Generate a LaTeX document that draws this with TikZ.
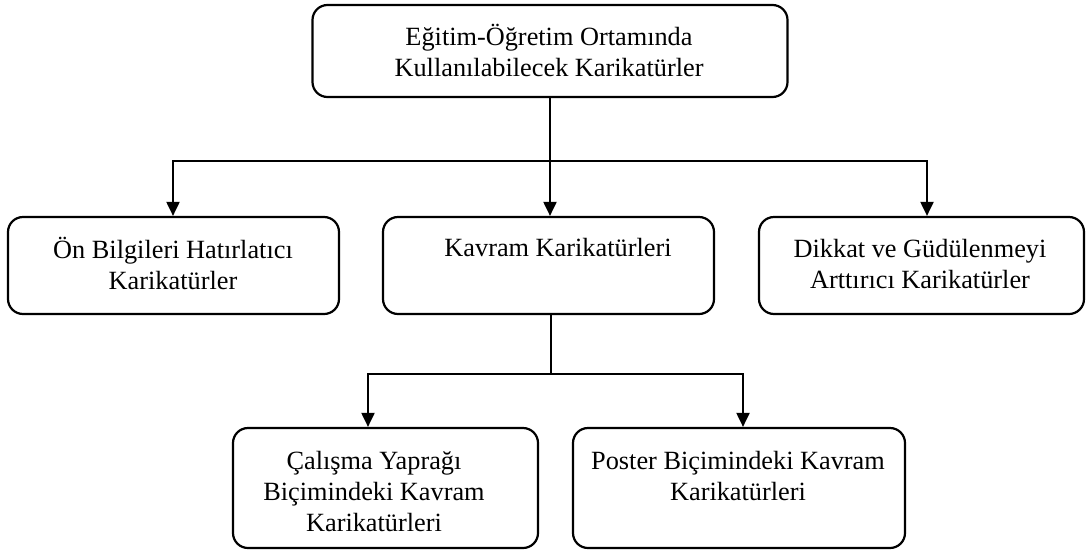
\documentclass[tikz,border=0pt]{standalone}
\usepackage{fontspec}
\setmainfont{Liberation Serif}
\usetikzlibrary{arrows.meta}
\begin{document}
\begin{tikzpicture}[x=1pt,y=-1pt,
  box/.style={draw, line width=2.2pt, rounded corners=15pt, inner sep=0pt},
  lbl/.style={align=center, inner sep=0pt, font=\fontsize{26.3}{31}\selectfont},
  conn/.style={line width=2pt},
  arr/.style={line width=2pt, -{Triangle[length=14pt,width=13pt]}}]
\useasboundingbox (0,0) rectangle (1089,552);
% boxes
\node[box, minimum width=475pt, minimum height=92pt] (top) at (550,51) {};
\node[box, minimum width=331pt, minimum height=97pt] (b1) at (173.5,265.5) {};
\node[box, minimum width=331pt, minimum height=97pt] (b2) at (548.5,265.5) {};
\node[box, minimum width=325pt, minimum height=97pt] (b3) at (921.5,265.5) {};
\node[box, minimum width=305pt, minimum height=120pt] (b4) at (385.5,488) {};
\node[box, minimum width=332pt, minimum height=120pt] (b5) at (739,488) {};
% labels
\node[lbl] (ttop) at (549,50) {Eğitim-Öğretim Ortamında\\Kullanılabilecek Karikatürler};
\node[lbl] (t1) at (173,263) {Ön Bilgileri Hatırlatıcı\\Karikatürler};
\node[lbl] (t2) at (558,247) {Kavram Karikatürleri};
\node[lbl] (t3) at (920,264) {Dikkat ve Güdülenmeyi\\Arttırıcı Karikatürler};
\node[lbl] (t4) at (374,491) {Çalışma Yaprağı\\Biçimindeki Kavram\\Karikatürleri};
\node[lbl] (t5) at (738,476) {Poster Biçimindeki Kavram\\Karikatürleri};
% connectors
\coordinate (h1) at (550,161);
\coordinate (h2) at (551,374);
\draw[conn] (top.south) -- (h1);
\draw[arr] (h1) -| (173,0 |- b1.north);
\draw[arr] (h1) -| ([xshift=1.5pt]b2.north);
\draw[arr] (h1) -| ([xshift=5.5pt]b3.north);
\draw[conn] (b2.south -| h2) -- (h2);
\draw[arr] (h2) -| ([xshift=-17.5pt]b4.north);
\draw[arr] (h2) -| ([xshift=4pt]b5.north);
\end{tikzpicture}
\end{document}
